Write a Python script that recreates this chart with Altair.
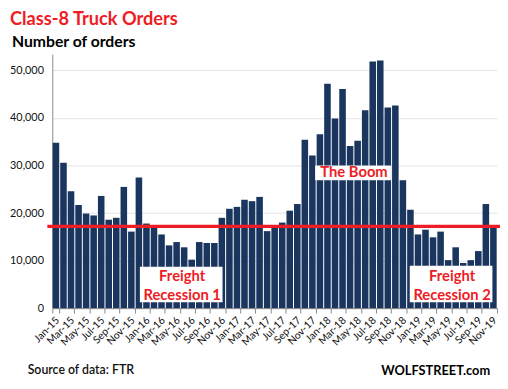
import altair as alt
import pandas as pd

# ---- data ----
months = [
    "Jan-15", "Feb-15", "Mar-15", "Apr-15", "May-15", "Jun-15", "Jul-15", "Aug-15", "Sep-15", "Oct-15", "Nov-15", "Dec-15",
    "Jan-16", "Feb-16", "Mar-16", "Apr-16", "May-16", "Jun-16", "Jul-16", "Aug-16", "Sep-16", "Oct-16", "Nov-16", "Dec-16",
    "Jan-17", "Feb-17", "Mar-17", "Apr-17", "May-17", "Jun-17", "Jul-17", "Aug-17", "Sep-17", "Oct-17", "Nov-17", "Dec-17",
    "Jan-18", "Feb-18", "Mar-18", "Apr-18", "May-18", "Jun-18", "Jul-18", "Aug-18", "Sep-18", "Oct-18", "Nov-18", "Dec-18",
    "Jan-19", "Feb-19", "Mar-19", "Apr-19", "May-19", "Jun-19", "Jul-19", "Aug-19", "Sep-19", "Oct-19", "Nov-19",
]
orders = [
    34800, 30600, 24600, 21700, 19900, 19500, 23600, 18600, 19000, 25500, 16100, 27500,
    17800, 17000, 15500, 13200, 13900, 12800, 10200, 13900, 13700, 13700, 19000, 20900,
    21300, 22800, 22500, 23400, 16200, 17000, 18000, 20500, 21900, 35400, 32100, 36600,
    47200, 39900, 46100, 34100, 35200, 41600, 51900, 52100, 42200, 42600, 26900, 20700,
    15500, 16500, 14900, 16100, 10100, 12800, 9500, 10100, 12000, 21900, 17000,
]
label_months = months[::2]
y_ticks = [0, 10000, 20000, 30000, 40000, 50000]
line_level = 17200

title_text = "Class-8 Truck Orders"
subtitle_text = "Number of orders"
source_text = "Source of data: FTR"
brand_text = "WOLFSTREET.com"

NAVY = "#1b365e"
RED = "#ee1c25"
FONT = "Lato"

df = pd.DataFrame({"month": months, "orders": orders})

xscale = alt.Scale(domain=months, paddingInner=0.13, paddingOuter=0.05)
yscale = alt.Scale(domain=[0, 53400], nice=False)

bars = alt.Chart(df).mark_bar(color=NAVY).encode(
    x=alt.X(
        "month:N",
        sort=months,
        scale=xscale,
        axis=alt.Axis(
            values=label_months,
            labelAngle=-45,
            labelOverlap=False,
            tickBand="extent",
            tickColor="#8a8a8a",
            tickSize=5,
            domainColor="#8a8a8a",
            labelFont=FONT,
            labelFontSize=10.5,
            labelColor="#111111",
            labelPadding=2,
            labelOffset=-2,
            title=None,
            grid=False,
        ),
    ),
    y=alt.Y(
        "orders:Q",
        scale=yscale,
        axis=alt.Axis(
            values=y_ticks,
            format=",d",
            grid=True,
            gridColor="#e2e2ea",
            gridWidth=1,
            domainColor="#8a8a8a",
            ticks=False,
            labelPadding=9,
            labelFont=FONT,
            labelFontSize=11,
            labelColor="#111111",
            title=None,
        ),
    ),
)

rule = alt.Chart(pd.DataFrame({"level": [line_level]})).mark_rule(
    color=RED, strokeWidth=3.3
).encode(y=alt.Y("level:Q", scale=yscale), x=alt.value(-5), x2=alt.value(460))

# annotation boxes: (center month, top value, bottom value, lines, text values, width px, x shift px)
annotations = [
    ("Jun-16", 8700, 1250, ["Freight", "Recession 1"], [6700, 2750], 84, -3),
    ("Apr-18", 30000, 26900, ["The Boom"], [28600], 77, 3),
    ("May-19", 8900, 1250, ["Freight", "Recession 2"], [6700, 2750], 84, 3),
]

layers = [bars, rule]
for m, top, bot, lines, ys, w, dx in annotations:
    box = alt.Chart(pd.DataFrame({"month": [m], "top": [top], "bot": [bot]})).mark_bar(
        color="white", width=w, xOffset=dx
    ).encode(
        x=alt.X("month:N", sort=months, scale=xscale),
        y=alt.Y("top:Q", scale=yscale),
        y2="bot:Q",
    )
    txt = alt.Chart(pd.DataFrame({"month": [m] * len(lines), "t": lines, "v": ys})).mark_text(
        color=RED, font=FONT, fontWeight="bold", fontSize=15, xOffset=dx + 1, baseline="middle"
    ).encode(
        x=alt.X("month:N", sort=months, scale=xscale),
        y=alt.Y("v:Q", scale=yscale),
        text="t:N",
    )
    layers += [box, txt]


def label(text, x, y, size, color, weight="bold", align="left", baseline="alphabetic"):
    return alt.Chart(pd.DataFrame({"t": [text]})).mark_text(
        font=FONT, fontSize=size, fontWeight=weight, color=color, align=align, baseline=baseline
    ).encode(x=alt.value(x), y=alt.value(y), text="t:N")


layers += [
    label(title_text, -43, -30, 18.5, RED),
    label(subtitle_text, -41, -7, 16, "#000000"),
    label(source_text, -25, 325, 12.5, "#111111", weight=600),
    label(brand_text, 445, 326, 13, "#000000", align="right"),
]

chart = alt.layer(*layers).properties(
    width=452,
    height=258,
    autosize=alt.AutoSizeParams(type="none"),
    padding={"left": 45, "top": 44, "right": 3, "bottom": 70},
).configure_view(stroke=None)

chart.save("out.html", embed_options={"renderer": "svg", "actions": False})
